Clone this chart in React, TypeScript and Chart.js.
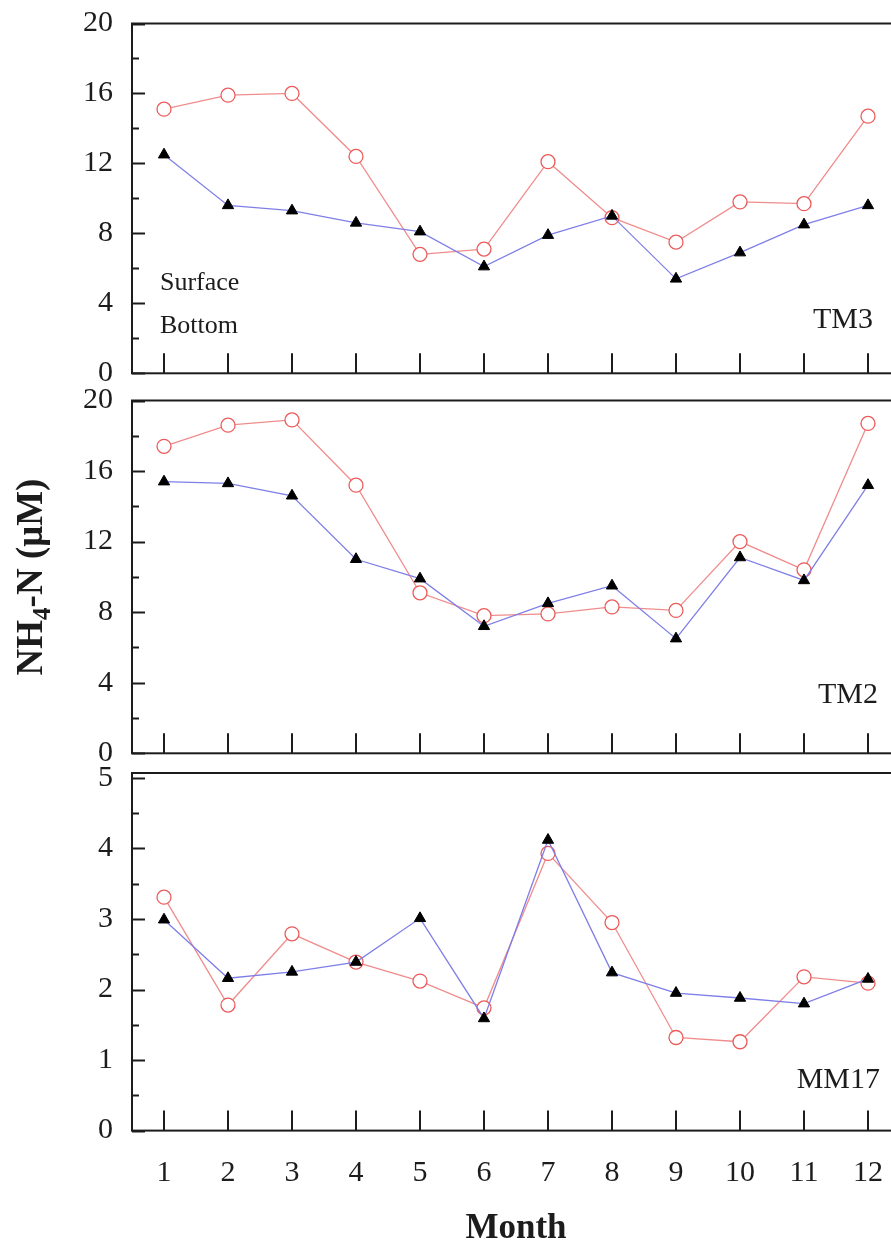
import React, { useEffect, useRef } from 'react';
import { Chart, registerables } from 'chart.js';

Chart.register(...registerables);

const MONTHS = [1, 2, 3, 4, 5, 6, 7, 8, 9, 10, 11, 12];

const TM3_SURFACE = [15.1, 15.9, 16.0, 12.4, 6.8, 7.1, 12.1, 8.9, 7.5, 9.8, 9.7, 14.7];
const TM3_BOTTOM = [12.5, 9.6, 9.3, 8.6, 8.1, 6.1, 7.9, 9.0, 5.4, 6.9, 8.5, 9.6];

const TM2_SURFACE = [17.4, 18.6, 18.9, 15.2, 9.1, 7.8, 7.9, 8.3, 8.1, 12.0, 10.4, 18.7];
const TM2_BOTTOM = [15.4, 15.3, 14.6, 11.0, 9.9, 7.2, 8.5, 9.5, 6.5, 11.1, 9.8, 15.2];

const MM17_SURFACE = [3.31, 1.78, 2.79, 2.39, 2.12, 1.74, 3.93, 2.95, 1.32, 1.26, 2.18, 2.09];
const MM17_BOTTOM = [2.99, 2.16, 2.25, 2.39, 3.01, 1.59, 4.12, 2.24, 1.95, 1.88, 1.8, 2.15];

const TM_Y_TICKS = [0, 4, 8, 12, 16, 20];
const TM_Y_MINOR = [2, 6, 10, 14, 18];
const MM_Y_TICKS = [0, 1, 2, 3, 4, 5];
const MM_Y_MINOR = [0.5, 1.5, 2.5, 3.5, 4.5];

const SERIES_NAMES = ['Surface', 'Bottom'];
const PANEL_NAMES = ['TM3', 'TM2', 'MM17'];
const X_TITLE = 'Month';

const SERIF = '"Liberation Serif", "Times New Roman", serif';
const INK = '#1c1c1c';

type Panel = {
  name: string;
  surface: number[];
  bottom: number[];
  yTicks: number[];
  yMinor: number[];
  yMax: number;
  top: number;
  height: number;
  padTop: number;
  padBottom: number;
  showX: boolean;
  xAxisHeight: number;
  labelRight: number;
  labelUp: number;
  legend: boolean;
  yTitle: boolean;
  xTitle: boolean;
};

const PANELS: Panel[] = [
  {
    name: PANEL_NAMES[0], surface: TM3_SURFACE, bottom: TM3_BOTTOM,
    yTicks: TM_Y_TICKS, yMinor: TM_Y_MINOR, yMax: 20,
    top: -30, height: 450, padTop: 53.5, padBottom: 46.7, showX: false, xAxisHeight: 0,
    labelRight: 27, labelUp: 45, legend: true, yTitle: false, xTitle: false,
  },
  {
    name: PANEL_NAMES[1], surface: TM2_SURFACE, bottom: TM2_BOTTOM,
    yTicks: TM_Y_TICKS, yMinor: TM_Y_MINOR, yMax: 20,
    top: 350, height: 450, padTop: 50.5, padBottom: 46.7, showX: false, xAxisHeight: 0,
    labelRight: 22, labelUp: 50, legend: false, yTitle: true, xTitle: false,
  },
  {
    name: PANEL_NAMES[2], surface: MM17_SURFACE, bottom: MM17_BOTTOM,
    yTicks: MM_Y_TICKS, yMinor: MM_Y_MINOR, yMax: 5.07,
    top: 720, height: 528, padTop: 53, padBottom: 0, showX: true, xAxisHeight: 117.4,
    labelRight: 20, labelUp: 43, legend: false, yTitle: false, xTitle: true,
  },
];

const CANVAS_W = 910;

function makeDecor(p: Panel) {
  return {
    id: 'decor',
    afterDraw(chart: any) {
      const { ctx, chartArea: a, scales } = chart;
      const x = scales.x;
      const y = scales.y;
      ctx.save();
      ctx.strokeStyle = INK;
      ctx.lineWidth = 2;
      ctx.strokeRect(a.left, a.top, a.right - a.left, a.bottom - a.top);
      ctx.beginPath();
      for (const v of p.yTicks) {
        const py = Math.round(y.getPixelForValue(v)) + 0.5;
        ctx.moveTo(a.left, py);
        ctx.lineTo(a.left + 13, py);
      }
      for (const v of p.yMinor) {
        const py = Math.round(y.getPixelForValue(v)) + 0.5;
        ctx.moveTo(a.left, py);
        ctx.lineTo(a.left + 7, py);
      }
      for (const m of MONTHS) {
        const px = Math.round(x.getPixelForValue(m));
        ctx.moveTo(px, a.bottom);
        ctx.lineTo(px, a.bottom - 20);
      }
      ctx.stroke();

      ctx.fillStyle = INK;
      ctx.textBaseline = 'alphabetic';
      ctx.font = `30px ${SERIF}`;
      ctx.textAlign = 'right';
      ctx.fillText(p.name, a.right - p.labelRight, a.bottom - p.labelUp);

      if (p.legend) {
        ctx.font = `26px ${SERIF}`;
        ctx.textAlign = 'left';
        ctx.fillText(SERIES_NAMES[0], a.left + 28, a.bottom - 83);
        ctx.fillText(SERIES_NAMES[1], a.left + 28, a.bottom - 40);
      }

      if (p.yTitle) {
        const cy = 577 - p.top;
        const big = `bold 37px ${SERIF}`;
        const small = `bold 25px ${SERIF}`;
        const parts = ['NH', '4', '-N (\u03bcM)'];
        ctx.font = big;
        const w1 = ctx.measureText(parts[0]).width;
        const w3 = ctx.measureText(parts[2]).width;
        ctx.font = small;
        const w2 = ctx.measureText(parts[1]).width;
        const total = w1 + w2 + w3;
        ctx.translate(42, cy);
        ctx.rotate(-Math.PI / 2);
        ctx.textAlign = 'left';
        let x0 = -total / 2;
        ctx.font = big;
        ctx.fillText(parts[0], x0, 0);
        x0 += w1;
        ctx.font = small;
        ctx.fillText(parts[1], x0, 8);
        x0 += w2;
        ctx.font = big;
        ctx.fillText(parts[2], x0, 0);
        ctx.setTransform(1, 0, 0, 1, 0, 0);
      }

      if (p.xTitle) {
        ctx.font = `bold 35px ${SERIF}`;
        ctx.textAlign = 'center';
        ctx.fillText(X_TITLE, (a.left + a.right) / 2, 1238 - p.top);
      }
      ctx.restore();
    },
  };
}

function PanelChart({ p }: { p: Panel }) {
  const ref = useRef<HTMLCanvasElement | null>(null);
  useEffect(() => {
    if (!ref.current) return;
    const chart = new Chart(ref.current, {
      type: 'line',
      data: {
        datasets: [
          {
            label: SERIES_NAMES[1],
            data: MONTHS.map((m, i) => ({ x: m, y: p.bottom[i] })),
            borderColor: '#7f7fe8',
            borderWidth: 1.3,
            pointStyle: 'triangle',
            pointRadius: 6.5,
            pointBackgroundColor: '#000',
            pointBorderColor: '#000',
            pointBorderWidth: 1,
            tension: 0,
            fill: false,
          },
          {
            label: SERIES_NAMES[0],
            data: MONTHS.map((m, i) => ({ x: m, y: p.surface[i] })),
            borderColor: '#f08c8c',
            borderWidth: 1.3,
            pointStyle: 'circle',
            pointRadius: 7,
            pointBackgroundColor: '#fff',
            pointBorderColor: '#ec5a5a',
            pointBorderWidth: 1.3,
            tension: 0,
            fill: false,
          },
        ],
      },
      options: {
        animation: false,
        responsive: false,
        events: [],
        layout: { padding: { top: p.padTop, bottom: p.padBottom, left: 0, right: CANVAS_W - 900 } },
        plugins: { legend: { display: false }, tooltip: { enabled: false }, title: { display: false } },
        scales: {
          x: {
            type: 'linear',
            min: 0.5,
            max: 12.5,
            display: p.showX,
            afterFit: (s: any) => { s.height = p.xAxisHeight; },
            afterBuildTicks: (s: any) => { s.ticks = MONTHS.map((v) => ({ value: v })); },
            grid: { display: false, drawTicks: false },
            border: { display: false },
            ticks: {
              color: INK,
              font: { family: SERIF, size: 30 },
              padding: 25,
              maxRotation: 0,
              autoSkip: false,
              callback: (v: any) => String(v),
            },
          },
          y: {
            type: 'linear',
            min: 0,
            max: p.yMax,
            afterFit: (s: any) => { s.width = 132; },
            afterBuildTicks: (s: any) => { s.ticks = p.yTicks.map((v) => ({ value: v })); },
            grid: { display: false, drawTicks: false },
            border: { display: false },
            ticks: {
              color: INK,
              font: { family: SERIF, size: 30 },
              padding: 19,
              callback: (v: any) => String(v),
            },
          },
        },
      },
      plugins: [makeDecor(p)],
    } as any);
    return () => chart.destroy();
  }, [p]);
  return (
    <canvas
      ref={ref}
      width={CANVAS_W}
      height={p.height}
      style={{ position: 'absolute', left: 0, top: p.top, width: CANVAS_W, height: p.height }}
    />
  );
}

export default function App() {
  return (
    <div
      style={{
        position: 'absolute',
        left: 0,
        top: 0,
        width: 891,
        height: 1248,
        overflow: 'hidden',
        background: '#fff',
      }}
    >
      {PANELS.map((p) => (
        <PanelChart key={p.name} p={p} />
      ))}
    </div>
  );
}
